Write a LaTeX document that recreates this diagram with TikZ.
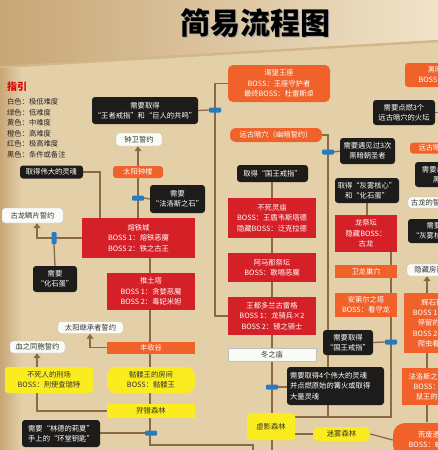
\documentclass[tikz,border=0pt]{standalone}
\usepackage{fontspec}
\setmainfont{Noto Sans CJK SC}
\usetikzlibrary{arrows.meta}
\definecolor{orgc}{RGB}{240,98,42}
\definecolor{redc}{RGB}{214,32,40}
\definecolor{blkc}{RGB}{30,28,26}
\definecolor{whtc}{RGB}{250,250,246}
\definecolor{yelc}{RGB}{250,236,30}
\definecolor{gatec}{RGB}{38,124,190}
\definecolor{linec}{RGB}{140,105,70}
\definecolor{paper}{RGB}{228,208,168}
\definecolor{paperl}{RGB}{240,227,200}
\definecolor{paperd}{RGB}{200,166,118}
\newcommand\fs{\fontsize{7.3}{10.3}\selectfont}
\newcommand\bx[7]{\node[#1,minimum width=#5pt,minimum height=#6pt] (#2) at (#3,#4) {#7};}
\pgfdeclarelayer{paperlayer}
\pgfdeclarelayer{linelayer}
\pgfsetlayers{paperlayer,linelayer,main}
\tikzset{
  bx/.style={rounded corners=3pt,inner sep=0pt,align=center,font=\fs,text=white},
  org/.style={bx,fill=orgc},
  redb/.style={bx,fill=redc,rounded corners=0pt},
  blk/.style={bx,fill=blkc},
  wht/.style={bx,fill=whtc,draw=black!25,line width=0.4pt,text=black!80},
  yel/.style={bx,fill=yelc,text=black!80},
  gateh/.style={fill=gatec,rounded corners=1pt,minimum width=12pt,minimum height=5pt,inner sep=0pt},
  gatev/.style={fill=gatec,rounded corners=1pt,minimum width=5pt,minimum height=12pt,inner sep=0pt},
  ln/.style={draw=linec,line width=1.3pt},
  arr/.style={ln,-{Triangle[width=7pt,length=5pt]}},
  legend/.style={anchor=west,inner sep=0pt,font=\fontsize{7.3}{8}\selectfont,text=black!85}
}
\begin{document}
\begin{tikzpicture}[x=1pt,y=-1pt]
\useasboundingbox (0,0) rectangle (438,450);
\clip (0,0) rectangle (438,450);
\begin{pgfonlayer}{paperlayer}
\fill[paper] (0,0) rectangle (438,450);
\shade[left color=paperd,right color=paperl] (0,0) -- (438,0) -- (438,40) -- (0,66) -- cycle;
\draw[paperd,line width=2.5pt,opacity=0.6] (0,67) -- (438,41);
\shade[left color=paperd,right color=paper] (0,68) rectangle (22,450);
\end{pgfonlayer}

% title and legend
\node[text=black!35,font=\fontsize{30}{30}\selectfont\bfseries] (tshadow) at (256.5,24.5) {简易流程图};
\node[text=black,font=\fontsize{30}{30}\selectfont\bfseries] (title) at (255,23) {简易流程图};
\node[anchor=west,inner sep=0pt,text=red!85!black,font=\fontsize{10}{10}\selectfont\bfseries] (leg0) at (7,86.5) {指引};
\node[legend] (leg1) at (7,102) {白色：极低难度};
\node[legend] (leg2) at (7,112.5) {绿色：低难度};
\node[legend] (leg3) at (7,123) {黄色：中难度};
\node[legend] (leg4) at (7,133.5) {橙色：高难度};
\node[legend] (leg5) at (7,144) {红色：极高难度};
\node[legend] (leg6) at (7,154.5) {黑色：条件或备注};

% left column
\bx{blk}{needRing}{145}{110.5}{106}{27}{需要取得\\“王者戒指”和“巨人的共鸣”}
\bx{wht}{bell}{139}{139.5}{46}{13}{钟卫誓约}
\bx{org}{belfry}{138}{172}{50}{12}{太阳钟楼}
\bx{blk}{farosNeed}{177.5}{199}{55}{28}{需要\\“法洛斯之石”}
\bx{blk}{greatSoul}{51.5}{172}{63}{13}{取得伟大的灵魂}
\bx{wht}{dragonScale}{32.5}{215.5}{61}{15}{古龙鳞片誓约}
\bx{redb}{ironKeep}{138.5}{238}{113}{40}{熔铁城\\BOSS 1：熔铁恶魔\\BOSS 2：铁之古王}
\bx{blk}{eggNeed}{55}{279}{44}{26}{需要\\“化石蛋”}
\bx{redb}{earthen}{151}{291.5}{88}{37}{推土塔\\BOSS 1：贪婪恶魔\\BOSS 2：毒妃米妲}
\bx{wht}{sunHeir}{90.5}{327.5}{65}{12}{太阳继承者誓约}
\bx{org,rounded corners=0pt}{harvest}{151}{347.5}{88}{12}{丰收谷}
\bx{wht}{blood}{37.5}{347}{55}{12}{血之同胞誓约}
\bx{yel}{purg}{49}{380}{88}{26}{不死人的刑场\\BOSS：刑使查瑞特}
\bx{yel,rounded corners=9pt}{skel}{151}{380}{88}{26}{骷髅王的房间\\BOSS：骷髅王}
\bx{yel,rounded corners=0pt}{copse}{151}{411}{88}{14}{狩猎森林}
\bx{blk}{lindelt}{61}{433.5}{78}{27}{需要“林德的莉夏”\\手上的“环堂钥匙”}

% middle column
\bx{org,rounded corners=5pt}{throne}{279}{83.5}{102}{37}{渴望王座\\BOSS：王座守护者\\最终BOSS：杜雷斯卓}
\bx{org,rounded corners=6pt}{chasm}{276}{135}{92}{14}{远古暗穴（幽暗誓约）}
\bx{blk}{kingRing}{272.5}{173.5}{71}{17}{取得“国王戒指”}
\bx{redb}{crypt}{272}{218}{88}{40}{不死灵庙\\BOSS：王盾韦斯塔德\\隐藏BOSS：泛克拉德}
\bx{redb}{amana}{272}{267.5}{88}{29}{阿马那祭坛\\BOSS：歌唱恶魔}
\bx{redb}{castle}{272}{316}{88}{38}{王都多兰古雷格\\BOSS 1：龙骑兵×2\\BOSS 2：镜之骑士}
\bx{wht,rounded corners=0pt}{winter}{272}{354.5}{88}{13}{冬之庙}
\node[blk,align=left,minimum width=97pt,minimum height=38pt,text width=91pt] (souls4) at (335.5,386) {需要取得4个伟大的灵魂\\并点燃原始的篝火或取得\\大量灵魂};
\bx{yel}{shaded}{271}{426.5}{48}{27}{虚影森林}
\bx{yel,rounded corners=6pt}{mist}{341.5}{434}{57}{14}{迷雾森林}

% right-middle column
\bx{blk}{meet3}{367.5}{151}{55}{26}{需要遇见过3次\\黑暗朝圣者}
\bx{blk}{light3}{404}{112.5}{62}{25}{需要点燃3个\\远古暗穴的火坛}
\bx{blk}{ashen}{367}{190.5}{64}{25}{取得“灰雾核心”\\和“化石蛋”}
\bx{redb}{shrine}{366}{233.5}{62}{37}{龙祭坛\\隐藏BOSS：\\古龙}
\bx{org,rounded corners=0pt}{aerie}{366}{271.5}{62}{13}{卫龙巢穴}
\bx{org,rounded corners=0pt}{aldia}{366}{305}{62}{24}{安第尔之塔\\BOSS：看守龙}
\bx{blk}{kingRing2}{348}{342.5}{50}{25}{需要取得\\“国王戒指”}

% far right column (cut by the border)
\bx{org}{abyss}{442.5}{75}{75}{24}{黑暗深渊\\BOSS：暗潜者}
\bx{org}{chasm2}{455}{148}{90}{11}{远古暗穴（幽暗誓约）}
\bx{blk}{needR1}{447.5}{174.5}{65}{25}{需要击败暗潜者\\黑暗之魂}
\bx{wht}{ancient}{436.5}{202.5}{57}{11}{古龙的誓约之石}
\bx{blk}{needR2}{434}{231}{52}{24}{需要\\“灰雾核心”}
\bx{wht}{hidden}{440}{270}{66}{12}{隐藏房间的钥匙}
\bx{org,rounded corners=0pt}{bright}{447}{323}{86}{60}{辉石镇泽尔多拉\\BOSS 1：徘徊的术士\\停留的术士与会众\\BOSS 2：公爵的爱犬\\爬虫看守者芙蕾雅}
\bx{org,rounded corners=0pt}{pharros}{445}{386.5}{86}{37}{法洛斯之门（鼠之王）\\BOSS：鼠王的试炼\\鼠王的试炼守护者}
\bx{org,rounded corners=12pt}{ruins}{440}{440}{94}{34}{荒废遗迹入口\\BOSS：蝎女娜迦卓}

% gates
\node[gateh] (g1) at (215,110) {};
\node[gateh] (g2) at (328,152) {};
\node[gateh] (g3) at (138,198) {};
\node[gatev] (g4) at (54,238) {};
\node[gateh] (g5) at (151,433) {};
\node[gateh] (g6) at (272,387) {};
\node[gateh] (g7) at (391,342) {};

% junction coordinates
\coordinate (jTop) at (215,83.5);
\coordinate (jChasm) at (328,135);
\coordinate (jChasmB) at (328,417);
\coordinate (jShade) at (295,417);
\coordinate (jRight) at (391,417);
\coordinate (jSoul) at (100,172);
\coordinate (jScale) at (37,238);
\coordinate (jHarv) at (90,347.5);
\coordinate (jCopse) at (37,411);
\coordinate (jBot) at (150,445);
\coordinate (jBot2) at (253,445);
\coordinate (jBot3) at (253,455);
\coordinate (jShadeB) at (272,455);
\coordinate (jLight) at (445,112.5);

\begin{pgfonlayer}{linelayer}
\draw[ln] (throne.west) -- (jTop) |- (castle.west);
\draw[ln] (needRing.east) -- (g1.west);
\draw[ln] (chasm.east) -- (jChasm) -- (jChasmB);
\draw[ln] (meet3.west) -- (g2.east);
\draw[ln] (light3.east) -- (jLight);
\draw[arr] (belfry.north) -- (bell.south -| belfry.north);
\draw[ln] (belfry.south) -- (ironKeep.north -| belfry.south);
\draw[ln] (farosNeed.west) -- (g3.east);
\draw[ln] (greatSoul.east) -- (jSoul) -- (ironKeep.north -| jSoul);
\draw[arr] (ironKeep.west |- jScale) -- (jScale) -- (dragonScale.south -| jScale);
\draw[ln] (eggNeed.north) -- (g4.south);
\draw[ln] (ironKeep.south -| jBot) -- (earthen.north -| jBot);
\draw[ln] (earthen.south -| jBot) -- (jBot) -- (jBot2) -- (jBot3);
\draw[arr] (harvest.west) -- (jHarv) -- (sunHeir.south -| jHarv);
\draw[arr] (copse.west) -- (jCopse) -- (blood.south -| jCopse);
\draw[ln] (lindelt.east |- g5) -- (g5.west);
\draw[ln] (kingRing.south -| g6) -- (shaded.north -| g6);
\draw[ln] (shaded.south -| g6) -- (jShadeB);
\draw[ln] (souls4.west |- g6) -- (g6.east);
\draw[ln] (jShade) -- (jRight) -- (shrine.south -| jRight);
\draw[ln] (kingRing2.east) -- (g7.west);
\draw[ln] (ashen.south) -- (shrine.north -| ashen.south);
\draw[ln] (shaded.east |- mist.west) -- (mist.west);
\draw[ln] (mist.east) -- (ruins.west);
\draw[ln] (427,422) -- (427,405);
\draw[ln] (427,368) -- (427,353);
\draw[arr] (427,293) -- (hidden.south -| 427,0);
\end{pgfonlayer}
\end{tikzpicture}
\end{document}
